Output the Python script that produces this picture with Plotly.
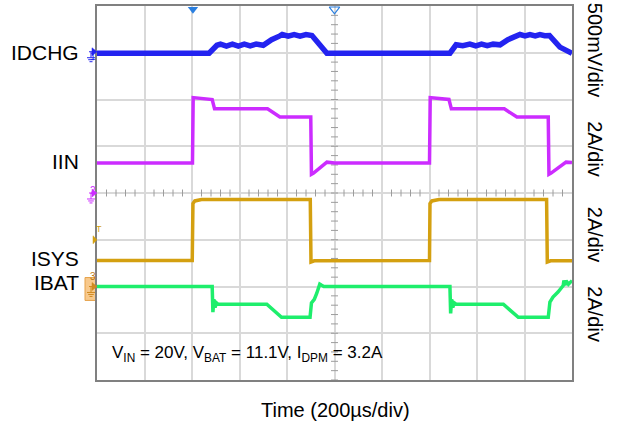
import numpy as np
import plotly.graph_objects as go

# ---------------- data (read from the scope capture) ----------------
# time in microseconds (200 us/div, 10 div)
t_idchg = [0, 472, 505, 520, 545, 570, 595, 620, 645, 670, 700, 735, 770, 780, 805, 830,
           855, 880, 905, 935, 968, 1000, 1486, 1512, 1540, 1570, 1595, 1619, 1643, 1668,
           1697, 1730, 1760, 1781, 1802, 1823, 1845, 1865, 1885, 1905, 1949, 1990, 2000]
idchg_mv = [-5, -5, 80, 92, 72, 92, 72, 92, 74, 92, 80, 140, 180, 195, 178, 195,
            178, 195, 185, 100, -5, -5, -5, 85, 75, 92, 74, 92, 75, 92,
            85, 140, 180, 195, 180, 195, 180, 195, 182, 185, 60, -5, -5]

t_iin = [0, 402, 405, 430, 485, 495, 718, 770, 900, 903, 912, 968, 1000,
         1400, 1403, 1430, 1482, 1492, 1715, 1768, 1900, 1903, 1912, 1975, 2000]
iin_a = [1.28, 1.28, 4.08, 4.05, 4.0, 3.6, 3.6, 3.25, 3.25, 0.8, 0.85, 1.32, 1.28,
         1.28, 4.08, 4.05, 4.0, 3.6, 3.6, 3.25, 3.25, 0.8, 0.85, 1.32, 1.3]

t_isys = [0, 401, 404, 412, 440, 898, 901, 915, 1400, 1402, 1410, 1440, 1893, 1896, 1910, 2000]
isys_a = [1.11, 1.11, 3.55, 3.66, 3.72, 3.72, 1.05, 1.1, 1.11, 3.55, 3.66, 3.72, 3.72, 1.05, 1.1, 1.1]

t_ibat = [0, 485, 488, 492, 497, 503, 510, 715, 777, 897, 903, 915, 925, 938, 946, 955, 1000,
          1486, 1489, 1493, 1498, 1504, 1512, 1711, 1774, 1900, 1907, 1920, 1941, 1963, 1966,
          1970, 1975, 1985, 1995, 2000]
ibat_a = [0, 0, -1.1, -0.55, -0.9, -0.7, -0.76, -0.76, -1.32, -1.32, -0.7, -0.55, -0.3, 0.1,
          0.05, 0.0, 0.0,
          0.0, -1.15, -0.55, -0.9, -0.7, -0.76, -0.76, -1.32, -1.32, -0.67, -0.45, -0.24,
          0.04, 0.26, 0.05, 0.25, 0.1, 0.2, 0.15]

trace_labels = ["IDCHG", "IIN", "ISYS", "IBAT"]
scale_labels = ["500mV/div", "2A/div", "2A/div", "2A/div"]
note_text = "V<sub>IN</sub> = 20V, V<sub>BAT</sub> = 11.1V, I<sub>DPM</sub> = 3.2A"
x_title = "Time (200µs/div)"

# ---------------- styling ----------------
W, H = 617, 430
L, R, T, B = 97, 45, 4, 50
PW, PH = W - L - R, H - T - B
FONT = "Arial, Liberation Sans, sans-serif"
BLUE, MAG, GOLD, GREEN = "#2323f0", "#cc2cff", "#d4a010", "#1eee6c"
GRID = "#d9d9d9"


def px(xp):
    return (xp - L) / PW


def py(yp):
    return (H - B - yp) / PH


def path(points, close=False):
    s = "M " + " L ".join(f"{px(a):.5f},{py(b):.5f}" for a, b in points)
    return s + (" Z" if close else "")


fig = go.Figure()

# minor ticks on the centre cross
tk = np.arange(0, 2001, 40)
tk = tk[tk % 200 != 0]
fig.add_trace(go.Scatter(x=tk, y=np.zeros_like(tk), mode="markers",
                         marker=dict(symbol="line-ns", size=5, line=dict(width=1, color="#9c9c9c")),
                         hoverinfo="skip"))
dv = np.arange(-4, 4.001, 0.2)
fig.add_trace(go.Scatter(x=np.full_like(dv, 1000), y=dv, mode="markers",
                         marker=dict(symbol="line-ew", size=5, line=dict(width=1, color="#9c9c9c")),
                         hoverinfo="skip"))

fig.add_trace(go.Scatter(x=t_idchg, y=idchg_mv, yaxis="y2", mode="lines",
                         line=dict(color=BLUE, width=5.5), name="IDCHG"))
fig.add_trace(go.Scatter(x=t_iin, y=iin_a, yaxis="y3", mode="lines",
                         line=dict(color=MAG, width=3.5), name="IIN"))
fig.add_trace(go.Scatter(x=t_isys, y=isys_a, yaxis="y4", mode="lines",
                         line=dict(color=GOLD, width=3.5), name="ISYS"))
fig.add_trace(go.Scatter(x=t_ibat, y=ibat_a, yaxis="y4", mode="lines",
                         line=dict(color=GREEN, width=3.5), name="IBAT"))

# trigger markers on top edge
fig.add_trace(go.Scatter(x=[404], y=[3.93], mode="markers", cliponaxis=False,
                         marker=dict(symbol="triangle-down", size=9, color="#2a7fe0")))
fig.add_trace(go.Scatter(x=[1000], y=[3.93], mode="markers", cliponaxis=False,
                         marker=dict(symbol="triangle-down-open", size=9, color="#2a7fe0",
                                     line=dict(width=1.2))))

axis_common = dict(showticklabels=False, ticks="", zeroline=False, fixedrange=True)
fig.update_layout(
    width=W, height=H, margin=dict(l=L, r=R, t=T, b=B),
    paper_bgcolor="white", plot_bgcolor="white", showlegend=False,
    xaxis=dict(range=[0, 2000], dtick=200, tick0=0, showgrid=True, gridcolor=GRID, gridwidth=1.5,
               showline=True, linecolor="#808080", linewidth=1.5, mirror=True, **axis_common),
    yaxis=dict(range=[-4, 4], dtick=1, tick0=0, showgrid=True, gridcolor=GRID, gridwidth=1.5,
               showline=True, linecolor="#808080", linewidth=1.5, mirror=True, **axis_common),
    yaxis2=dict(range=[-3500, 500], overlaying="y", visible=False, fixedrange=True),
    yaxis3=dict(range=[-8, 8], overlaying="y", visible=False, fixedrange=True),
    yaxis4=dict(range=[-4, 12], overlaying="y", visible=False, fixedrange=True),
)

shapes = []
# orange box behind channel-3 marker
shapes.append(dict(type="rect", x0=px(85), x1=px(96.5), y0=py(300), y1=py(277),
                   fillcolor="#f8c98c", line=dict(color="#e6a24a", width=1), layer="below"))


def chan_marker(yc, color, ground=True):
    shapes.append(dict(type="path", path=path([(92, yc - 4), (97, yc), (92, yc + 4)], True),
                       fillcolor=color, line=dict(color=color, width=0.5)))
    shapes.append(dict(type="path", path=path([(89, yc), (92, yc)]), line=dict(color=color, width=1)))
    if ground:
        shapes.append(dict(type="path", path=path([(91, yc), (91, yc + 6)]), line=dict(color=color, width=1)))
        for dy, hw in [(6, 4), (8, 2.8), (10, 1.5)]:
            shapes.append(dict(type="path", path=path([(91 - hw, yc + dy), (91 + hw, yc + dy)]),
                               line=dict(color=color, width=1)))


chan_marker(50, BLUE)
chan_marker(192, MAG)
chan_marker(286, "#d08a20")
shapes.append(dict(type="path", path=path([(93, 235), (97, 239), (93, 243)], True),
                   fillcolor=GOLD, line=dict(color=GOLD, width=0.5)))
for s in shapes:
    s.update(xref="paper", yref="paper")
fig.update_layout(shapes=shapes)

ann = []
for lab, yc in zip(trace_labels, [50.7, 160.7, 258, 282]):
    ann.append(dict(text=lab, x=px(81), y=py(yc), xanchor="right", yanchor="middle",
                    font=dict(size=21, color="black", family=FONT)))
for lab, yc in zip(scale_labels, [48, 148, 234, 314]):
    ann.append(dict(text=lab, x=px(595), y=py(yc), xanchor="center", yanchor="middle",
                    textangle=90, font=dict(size=20, color="black", family=FONT)))
ann.append(dict(text=note_text, x=px(110), y=py(354), xanchor="left", yanchor="middle",
                font=dict(size=17, color="black", family=FONT)))
ann.append(dict(text=x_title, x=px(335), y=py(410), xanchor="center", yanchor="middle",
                font=dict(size=20, color="black", family=FONT)))
# small channel numbers
ann.append(dict(text="1", x=px(87.5), y=py(47), font=dict(size=10, color=BLUE, family=FONT)))
ann.append(dict(text="2", x=px(87.5), y=py(189), font=dict(size=10, color=MAG, family=FONT)))
ann.append(dict(text="T", x=px(94), y=py(228), font=dict(size=9, color=GOLD, family=FONT)))
ann.append(dict(text="3", x=px(87.5), y=py(283), font=dict(size=10, color="#c07a10", family=FONT)))
for a in ann:
    a.update(xref="paper", yref="paper", showarrow=False)
fig.update_layout(annotations=ann)

fig.write_html("out.html")
